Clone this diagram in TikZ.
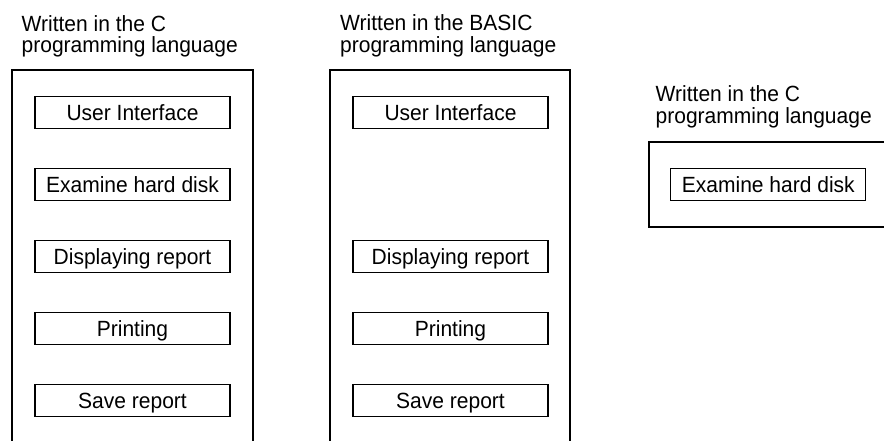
\documentclass[tikz,border=0pt]{standalone}
\usepackage{fontspec}
\setmainfont{Liberation Sans}[FakeStretch=0.955]
\begin{document}
\begin{tikzpicture}[x=1pt,y=-1pt,
  lbl/.style={anchor=base west,align=left,inner sep=0pt,font=\fontsize{22}{21.5}\selectfont},
  task/.style={draw,line width=1.2pt,minimum width=195pt,minimum height=31.5pt,inner sep=0pt,
    text height=16.4pt,text depth=0pt,font=\fontsize{22}{21.5}\selectfont},
  frame/.style={draw,line width=2pt}]
\useasboundingbox (0,0) rectangle (884,441);
% column 1
\node[lbl] (l1) at (21.5,52.8) {Written in the C\\programming language};
\draw[frame] (12,441) -- (12,70) -- (253,70) -- (253,441);
\node[task] (a1) at (132.5,112.5) {User Interface};
\node[task] (a2) at (132.5,184.5) {Examine hard disk};
\node[task] (a3) at (132.5,256.5) {Displaying report};
\node[task] (a4) at (132.5,328.5) {Printing};
\node[task] (a5) at (132.5,400.5) {Save report};
% column 2
\node[lbl] (l2) at (340,52.2) {Written in the BASIC\\programming language};
\draw[frame] (330,441) -- (330,70) -- (570,70) -- (570,441);
\node[task] (b1) at (450.5,112.5) {User Interface};
\node[task] (b3) at (450.5,256.5) {Displaying report};
\node[task] (b4) at (450.5,328.5) {Printing};
\node[task] (b5) at (450.5,400.5) {Save report};
% column 3
\node[lbl] (l3) at (655.5,123.3) {Written in the C\\programming language};
\draw[frame] (886,142) -- (648.5,142) -- (648.5,227) -- (886,227);
\node[task] (c2) at (768.3,184.5) {Examine hard disk};
\end{tikzpicture}
\end{document}
